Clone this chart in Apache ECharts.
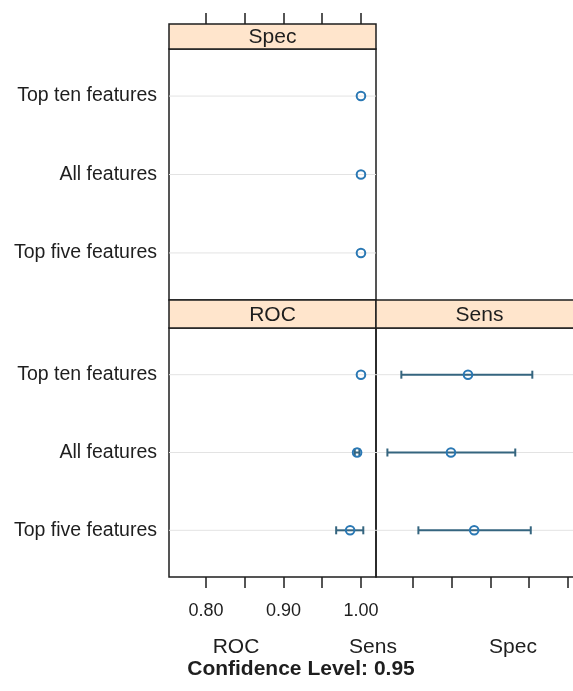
<!DOCTYPE html>
<html>
<head>
<meta charset="utf-8">
<script src="https://cdn.jsdelivr.net/npm/echarts@6/dist/echarts.min.js"></script>
<style>
  html, body { margin: 0; padding: 0; background: #fff; }
  #chart { width: 573px; height: 691px; }
</style>
</head>
<body>
<div id="chart"></div>
<script>
// Models, listed bottom to top (y = 1, 2, 3)
const models = ['Top five features', 'All features', 'Top ten features'];

// Resampled metric estimates with 95% confidence limits
const rocEst  = [0.986, 0.995, 1.000];
const rocLo   = [0.968, 0.992, 1.000];
const rocHi   = [1.003, 0.998, 1.000];

const sensEst = [0.879, 0.849, 0.871];
const sensLo  = [0.807, 0.767, 0.785];
const sensHi  = [0.952, 0.932, 0.954];

const specEst = [1.000, 1.000, 1.000];
const specLo  = [1.000, 1.000, 1.000];
const specHi  = [1.000, 1.000, 1.000];

// Shared x scale and tick values
const tickValues  = [0.80, 0.85, 0.90, 0.95, 1.00];
const labelValues = [0.80, 0.90, 1.00];
const xMin = 0.7523, xMax = 1.0194;

const metricNames = ['ROC', 'Sens', 'Spec'];
const footer = 'Confidence Level: 0.95';

const FONT = '"Liberation Sans", Arial, sans-serif';
const INK = '#1e1e1e';
const STRIP_FILL = '#ffe5cc';
const POINT_COL = '#2a78b4';
const BAR_COL = '#35657f';
const GRID_COL = '#e3e3e3';

const chart = echarts.init(document.getElementById('chart'), null, { renderer: 'canvas' });

// Panel geometry
const panels = {
  spec: { left: 169, top: 49,  width: 207, height: 251 },
  roc:  { left: 169, top: 328, width: 207, height: 249 },
  sens: { left: 376, top: 328, width: 207, height: 249 }
};
const stripH = { spec: 25, roc: 28, sens: 28 };

function gridOf(p) {
  return { left: p.left, top: p.top, width: p.width, height: p.height,
           show: true, borderColor: INK, borderWidth: 1.5, backgroundColor: 'transparent',
           containLabel: false, outerBoundsMode: 'none' };
}

function xAxisOf(gridIndex, position, showLabels, offset) {
  return {
    type: 'value', gridIndex, position, min: xMin, max: xMax, offset: offset || 0,
    axisLine: { show: false },
    splitLine: { show: false },
    axisTick: { show: true, inside: false, length: 11, customValues: tickValues,
                lineStyle: { color: INK, width: 1.5 } },
    axisLabel: { show: showLabels, customValues: labelValues, margin: 25,
                 formatter: v => v.toFixed(2), color: INK, fontSize: 18, fontFamily: FONT }
  };
}

function yAxisOf(gridIndex, showLabels) {
  return {
    type: 'value', gridIndex, min: 0.4, max: 3.6,
    axisLine: { show: false }, axisTick: { show: false }, splitLine: { show: false },
    axisLabel: { show: showLabels, customValues: [1, 2, 3], margin: 12,
                 formatter: v => models[Math.round(v) - 1] || '',
                 color: INK, fontSize: 19.5, fontFamily: FONT }
  };
}

function rows(lo, est, hi) {
  return models.map((m, i) => [lo[i], est[i], hi[i], i + 1]);
}

// Light reference line across the panel at each model row
function gridLineSeries(idx) {
  return {
    type: 'custom', xAxisIndex: idx, yAxisIndex: idx, z: 1, silent: true,
    data: models.map((m, i) => [xMin, i + 1]),
    renderItem(params, api) {
      const cs = params.coordSys;
      const y = api.coord([xMin, api.value(1)])[1];
      return { type: 'line', shape: { x1: cs.x, y1: y, x2: cs.x + cs.width, y2: y },
               style: { stroke: GRID_COL, lineWidth: 1 } };
    }
  };
}

// Confidence interval with end caps and an open circle at the estimate
function intervalSeries(idx, data) {
  return {
    type: 'custom', xAxisIndex: idx, yAxisIndex: idx, z: 3, silent: true,
    data,
    renderItem(params, api) {
      const y = api.value(3);
      const pLo = api.coord([api.value(0), y]);
      const pEst = api.coord([api.value(1), y]);
      const pHi = api.coord([api.value(2), y]);
      const children = [];
      if (pHi[0] - pLo[0] > 2) {
        const cap = 4;
        children.push(
          { type: 'line', shape: { x1: pLo[0], y1: pLo[1], x2: pHi[0], y2: pHi[1] },
            style: { stroke: BAR_COL, lineWidth: 2 } },
          { type: 'line', shape: { x1: pLo[0], y1: pLo[1] - cap, x2: pLo[0], y2: pLo[1] + cap },
            style: { stroke: BAR_COL, lineWidth: 2 } },
          { type: 'line', shape: { x1: pHi[0], y1: pHi[1] - cap, x2: pHi[0], y2: pHi[1] + cap },
            style: { stroke: BAR_COL, lineWidth: 2 } }
        );
      }
      children.push({ type: 'circle', shape: { cx: pEst[0], cy: pEst[1], r: 4.3 },
                      style: { fill: 'none', stroke: POINT_COL, lineWidth: 2 } });
      return { type: 'group', children };
    }
  };
}

function strip(p, h, label) {
  return {
    type: 'group', x: p.left, y: p.top - h, z: 10,
    children: [
      { type: 'rect', shape: { x: 0, y: 0, width: p.width, height: h },
        style: { fill: STRIP_FILL, stroke: INK, lineWidth: 1.5 } },
      { type: 'text', x: p.width / 2, y: h / 2 + 1,
        style: { text: label, fill: INK, font: '21px ' + FONT, align: 'center', verticalAlign: 'middle' } }
    ]
  };
}

function caption(x, y, text, font) {
  return { type: 'text', x, y, z: 10,
           style: { text, fill: INK, font, align: 'center', verticalAlign: 'middle' } };
}

const option = {
  backgroundColor: '#fff',
  animation: false,
  grid: [gridOf(panels.spec), gridOf(panels.roc), gridOf(panels.sens)],
  xAxis: [
    xAxisOf(0, 'top', false, stripH.spec),
    xAxisOf(1, 'bottom', true, 0),
    xAxisOf(2, 'bottom', false, 0)
  ],
  yAxis: [yAxisOf(0, true), yAxisOf(1, true), yAxisOf(2, false)],
  series: [
    gridLineSeries(0), gridLineSeries(1), gridLineSeries(2),
    intervalSeries(0, rows(specLo, specEst, specHi)),
    intervalSeries(1, rows(rocLo, rocEst, rocHi)),
    intervalSeries(2, rows(sensLo, sensEst, sensHi))
  ],
  graphic: [
    strip(panels.spec, stripH.spec, 'Spec'),
    strip(panels.roc, stripH.roc, 'ROC'),
    strip(panels.sens, stripH.sens, 'Sens'),
    caption(236, 647, metricNames[0], '21px ' + FONT),
    caption(373, 647, metricNames[1], '21px ' + FONT),
    caption(513, 647, metricNames[2], '21px ' + FONT),
    caption(301, 669, footer, 'bold 21px ' + FONT)
  ]
};

chart.setOption(option);
</script>
</body>
</html>
